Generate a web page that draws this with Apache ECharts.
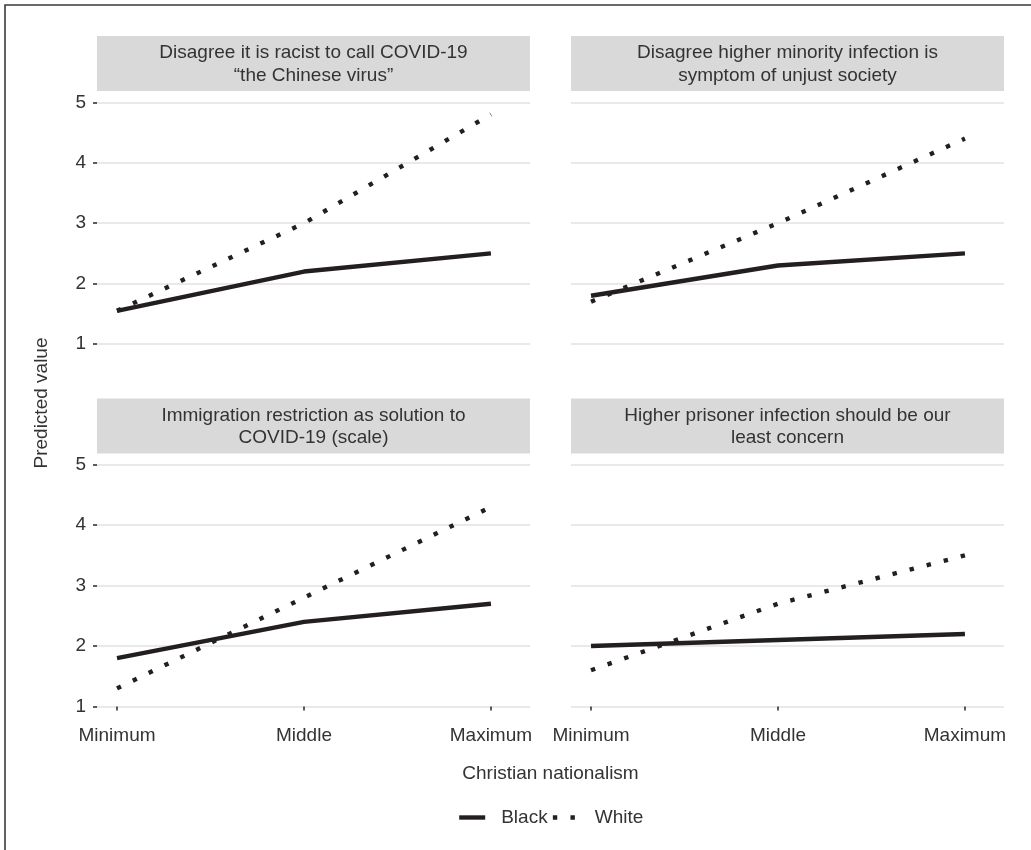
<!DOCTYPE html>
<html>
<head>
<meta charset="utf-8">
<title>Christian nationalism and predicted attitudes</title>
<script src="https://cdn.jsdelivr.net/npm/echarts@6/dist/echarts.min.js"></script>
<style>
  html, body { margin: 0; padding: 0; background: #fff; }
  #chart { width: 1031px; height: 850px; }
</style>
</head>
<body>
<div id="chart"></div>
<script>
// ---- data ----
const categories = ['Minimum', 'Middle', 'Maximum'];
const yTicks = [1, 2, 3, 4, 5];
const groups = ['Black', 'White'];

const panelTitles = [
  'Disagree it is racist to call COVID-19\n\u201cthe Chinese virus\u201d',
  'Disagree higher minority infection is\nsymptom of unjust society',
  'Immigration restriction as solution to\nCOVID-19 (scale)',
  'Higher prisoner infection should be our\nleast concern'
];

const blackChineseVirus  = [1.55, 2.2, 2.5];
const whiteChineseVirus  = [1.55, 3.0, 4.8];
const blackUnjustSociety = [1.8, 2.3, 2.5];
const whiteUnjustSociety = [1.7, 3.0, 4.4];
const blackImmigration   = [1.8, 2.4, 2.7];
const whiteImmigration   = [1.3, 2.8, 4.3];
const blackPrisoner      = [2.0, 2.1, 2.2];
const whitePrisoner      = [1.6, 2.7, 3.5];

const panelBlack = [blackChineseVirus, blackUnjustSociety, blackImmigration, blackPrisoner];
const panelWhite = [whiteChineseVirus, whiteUnjustSociety, whiteImmigration, whitePrisoner];

// ---- layout ----
const FONT = 'Liberation Sans, Arial, sans-serif';
const TEXT = '#333333';
const INK = '#231f20';
const colLeft = [97, 571];
const panelW = 433;
const rowTop = [102.3, 464.7];      // y of the top tick (5)
const panelH = 241.8;               // 5 -> 1
const stripH = 55;
const stripGap = 11.3;              // strip bottom to top tick
const xMin = -0.107, xMax = 2.209;  // discrete positions 0..2 with padding
const lineW = 4.4;

const grids = [], xAxes = [], yAxes = [], series = [], graphics = [];

for (let p = 0; p < 4; p++) {
  const col = p % 2, row = Math.floor(p / 2);
  const left = colLeft[col], top = rowTop[row];
  grids.push({ left: left, top: top, width: panelW, height: panelH, containLabel: false });

  xAxes.push({
    gridIndex: p, type: 'value', min: xMin, max: xMax,
    axisLine: { show: false, onZero: false },
    splitLine: { show: false },
    axisTick: {
      show: row === 1, customValues: [0, 1, 2], length: 4, inside: false,
      lineStyle: { color: TEXT, width: 1.6 }
    },
    axisLabel: {
      show: row === 1, customValues: [0, 1, 2], margin: 20,
      formatter: v => categories[Math.round(v)],
      fontFamily: FONT, fontSize: 19, color: TEXT
    }
  });

  yAxes.push({
    gridIndex: p, type: 'value', min: yTicks[0], max: yTicks[yTicks.length - 1], interval: 1,
    axisLine: { show: false, onZero: false },
    splitLine: { show: true, lineStyle: { color: '#e2e2e2', width: 1.5 } },
    axisTick: { show: col === 0, length: 4, lineStyle: { color: TEXT, width: 1.6 } },
    axisLabel: {
      show: col === 0, margin: 11,
      fontFamily: FONT, fontSize: 19, color: TEXT
    }
  });

  series.push({
    name: groups[0], type: 'line', xAxisIndex: p, yAxisIndex: p,
    data: panelBlack[p].map((v, i) => [i, v]),
    symbol: 'none', smooth: false, z: 2,
    lineStyle: { color: INK, width: lineW, type: 'solid', cap: 'butt' },
    itemStyle: { color: INK }
  });
  series.push({
    name: groups[1], type: 'line', xAxisIndex: p, yAxisIndex: p,
    data: panelWhite[p].map((v, i) => [i, v]),
    symbol: 'none', smooth: false, z: 3,
    lineStyle: { color: INK, width: lineW, type: [lineW, lineW * 3], cap: 'butt' },
    itemStyle: { color: INK }
  });

  // facet strip
  const sTop = top - stripGap - stripH;
  graphics.push({
    type: 'rect', silent: true, z: 0,
    shape: { x: left, y: sTop, width: panelW, height: stripH },
    style: { fill: '#d9d9da' }
  });
  graphics.push({
    type: 'text', silent: true, z: 1,
    x: left + panelW / 2, y: sTop + stripH / 2 + 1,
    style: {
      text: panelTitles[p], fill: TEXT, font: '19px ' + FONT,
      align: 'center', verticalAlign: 'middle', lineHeight: 22.6
    }
  });
}

// axis titles
graphics.push({
  type: 'text', silent: true,
  x: (colLeft[0] + colLeft[1] + panelW) / 2, y: 774,
  style: { text: 'Christian nationalism', fill: TEXT, font: '19px ' + FONT, align: 'center', verticalAlign: 'middle' }
});
graphics.push({
  type: 'text', silent: true,
  x: 42, y: 403, rotation: Math.PI / 2,
  style: { text: 'Predicted value', fill: TEXT, font: '19px ' + FONT, align: 'center', verticalAlign: 'middle' }
});
// outer frame
graphics.push({
  type: 'rect', silent: true,
  shape: { x: 5, y: 5, width: 1200, height: 1000 },
  style: { fill: 'none', stroke: '#3a3a3a', lineWidth: 1.6 }
});

const chart = echarts.init(document.getElementById('chart'), null, { renderer: 'canvas' });
chart.setOption({
  backgroundColor: '#ffffff',
  animation: false,
  grid: grids,
  xAxis: xAxes,
  yAxis: yAxes,
  series: series,
  graphic: graphics,
  legend: {
    data: groups,
    left: 457, top: 808, padding: 0,
    itemWidth: 26, itemHeight: 19, itemGap: 3,
    selectedMode: false,
    lineStyle: { width: lineW, color: INK, cap: 'butt' },
    itemStyle: { color: 'rgba(0,0,0,0)', borderWidth: 0, opacity: 0 },
    textStyle: { fontFamily: FONT, fontSize: 19, color: TEXT, padding: [0, 0, 0, 11] }
  }
});
</script>
</body>
</html>
